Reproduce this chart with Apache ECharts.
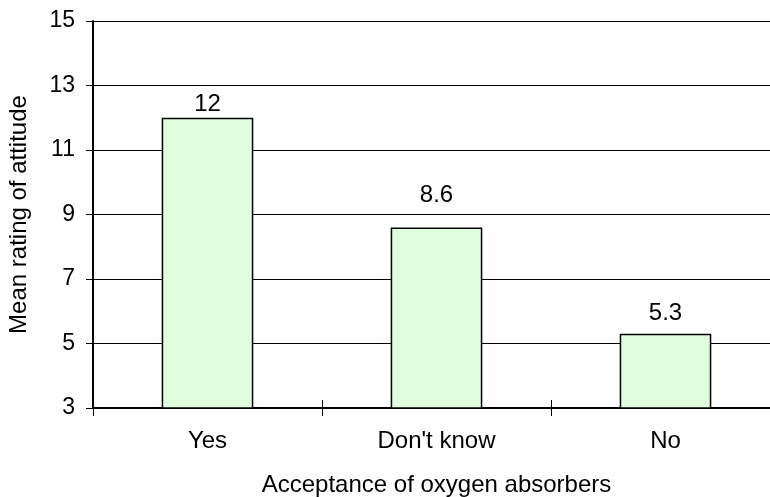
<!DOCTYPE html>
<html>
<head>
<meta charset="utf-8">
<script src="https://cdn.jsdelivr.net/npm/echarts@6/dist/echarts.min.js"></script>
<style>
  html, body { margin: 0; padding: 0; background: #fff; }
  #main { width: 770px; height: 497px; }
</style>
</head>
<body>
<div id="main"></div>
<script>
// data
const categories = ['Yes', "Don't know", 'No'];
const meanRating = [12, 8.6, 5.3];
const yTicks = [3, 5, 7, 9, 11, 13, 15];

// Excel put the value labels at uneven heights above the bars
const labelGap = [1, 20, 8];

const font = 'Liberation Sans, Arial, sans-serif';

var myChart = echarts.init(document.getElementById('main'));

var option = {
  animation: false,
  textStyle: { fontFamily: font },
  grid: {
    left: 93,
    top: 21,
    right: -10,
    bottom: 89,
    containLabel: false,
    outerBoundsMode: 'none'
  },
  xAxis: [
    {
      type: 'category',
      data: categories,
      name: 'Acceptance of oxygen absorbers',
      nameLocation: 'middle',
      nameGap: 65,
      nameTextStyle: { color: '#000', fontSize: 24, fontFamily: font },
      axisLine: { lineStyle: { color: '#000', width: 2 } },
      axisTick: { show: true, length: 8, lineStyle: { color: '#000', width: 1 } },
      axisLabel: { color: '#000', fontSize: 24, margin: 21, fontFamily: font }
    },
    {
      // second copy only to draw the upper half of the crossing ticks
      type: 'category',
      data: categories,
      position: 'bottom',
      axisLine: { show: false },
      axisTick: { show: true, inside: true, length: 8, lineStyle: { color: '#000', width: 1 } },
      axisLabel: { show: false }
    }
  ],
  yAxis: {
    type: 'value',
    min: yTicks[0],
    max: yTicks[yTicks.length - 1],
    interval: 2,
    name: 'Mean rating of attitude',
    nameLocation: 'middle',
    nameGap: 62,
    nameTextStyle: { color: '#000', fontSize: 24, fontFamily: font },
    axisLine: { show: true, lineStyle: { color: '#000', width: 2 } },
    axisTick: { show: true, length: 7, lineStyle: { color: '#000', width: 1 } },
    axisLabel: { color: '#000', fontSize: 23, margin: 18, fontFamily: font },
    splitLine: { show: true, lineStyle: { color: '#000', width: 1 } }
  },
  series: [
    {
      type: 'bar',
      barWidth: '40%',
      data: meanRating.map((v, i) => ({
        value: v,
        label: { distance: labelGap[i] }
      })),
      itemStyle: {
        color: '#ddfddd',
        borderColor: '#000',
        borderWidth: 1.5
      },
      label: {
        show: true,
        position: 'top',
        color: '#000',
        fontSize: 24,
        fontFamily: font
      }
    }
  ]
};

myChart.setOption(option);
window.addEventListener('resize', () => {
  myChart.resize()
})
</script>
</body>
</html>
